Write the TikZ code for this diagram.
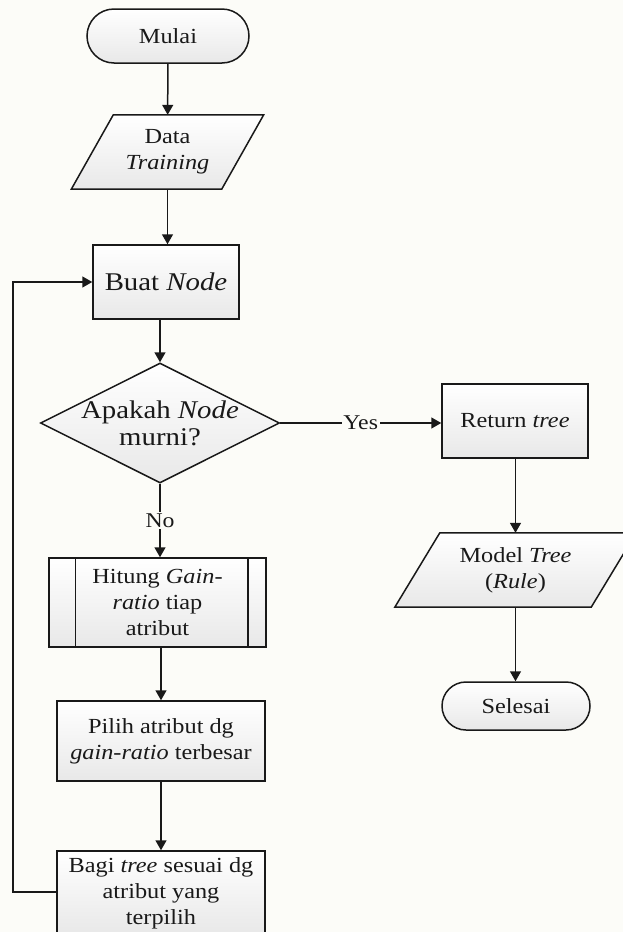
\documentclass[tikz,border=0pt]{standalone}
\usepackage{fontspec}
\setmainfont{Liberation Serif}[FakeStretch=1.13]
\usetikzlibrary{arrows.meta,shapes.geometric,calc}
\definecolor{ink}{RGB}{25,25,25}
\definecolor{paper}{RGB}{252,252,248}
\pgfdeclarelayer{paperlayer}
\pgfdeclarelayer{shapelayer}
\pgfsetlayers{paperlayer,shapelayer,main}
\newcommand\mainsize{\fontsize{21.5}{26}\selectfont}
\newcommand\bigsize{\fontsize{25.5}{27}\selectfont}
\tikzset{
  base/.style={draw=ink, line width=1.5pt, top color=white, bottom color=black!9,
    align=center, inner sep=0pt, font=\mainsize, text=ink},
  iotext/.style={align=center, inner sep=0pt, font=\mainsize, text=ink},
  ioshape/.style={draw=ink, line width=1.5pt, top color=white, bottom color=black!9},
  flow/.style={draw=ink, line width=1.5pt, -{Triangle[length=10pt,width=11pt]}},
  tag/.style={fill=paper, inner sep=1.5pt, text=ink, font=\fontsize{21}{24}\selectfont}
}
% parallelogram behind a text node: #1 node name, #2 half of the slant
\newcommand\parallelo[2]{%
  \begin{pgfonlayer}{shapelayer}
    \path[ioshape] ($(#1.north west)+(#2,0)$) -- ($(#1.north east)+(#2,0)$)
      -- ($(#1.south east)-(#2,0)$) -- ($(#1.south west)-(#2,0)$) -- cycle;
  \end{pgfonlayer}}
\begin{document}
\begin{tikzpicture}[x=1pt,y=-1pt]
\begin{pgfonlayer}{paperlayer}
  \fill[paper] (0,0) rectangle (623,932);
\end{pgfonlayer}
\useasboundingbox (0,0) rectangle (623,932);

% left column
\node[base, rounded corners=27pt, minimum width=162pt, minimum height=54pt] (start) at (168,36) {Mulai};
\node[iotext, minimum width=150pt, minimum height=74pt] (data) at (167.5,152) {Data\\\textit{Training}};
\parallelo{data}{21}
\node[base, minimum width=146pt, minimum height=74pt, font=\bigsize] (make) at (166,282) {Buat \textit{Node}};
\node[base, diamond, minimum width=239pt, minimum height=120pt] (pure) at (160,423) {};
\node[align=center, inner sep=0pt, font=\bigsize, text=ink] (pureq) at (pure.center) {Apakah \textit{Node}\\murni?};
\node[base, minimum width=217pt, minimum height=89pt] (gain) at (157.5,602.5) {Hitung \textit{Gain-}\\\textit{ratio} tiap\\atribut};
\draw[draw=ink, line width=1.5pt] ([xshift=27pt]gain.north west) -- ([xshift=27pt]gain.south west);
\draw[draw=ink, line width=1.5pt] ([xshift=-19pt]gain.north east) -- ([xshift=-19pt]gain.south east);
\node[base, minimum width=208pt, minimum height=80pt] (pick) at (161,741) {Pilih atribut dg\\\textit{gain-ratio} terbesar};
\node[base, minimum width=208pt, minimum height=84pt] (split) at (161,893) {Bagi \textit{tree} sesuai dg\\atribut yang\\terpilih};

% right column
\node[base, minimum width=146pt, minimum height=74pt] (ret) at (515,421) {Return \textit{tree}};
\node[iotext, minimum width=196pt, minimum height=74pt] (model) at (515.5,570) {Model \textit{Tree}\\(\textit{Rule})};
\parallelo{model}{22.5}
\node[base, rounded corners=24pt, minimum width=148pt, minimum height=48pt] (stop) at (516,706) {Selesai};

\coordinate (loop) at (13,892);

% connectors
\draw[flow] (start) -- (data);
\draw[flow] (data.south) -- (data.south |- make.north);
\draw[flow] (make.south -| pure.north) -- (pure.north);
\draw[flow] (pure.south) -- node[tag] {No} (pure.south |- gain.north);
\draw[flow] (gain.south -| pick.north) -- (pick.north);
\draw[flow] (pick) -- (split);
\draw[flow] (split.west |- loop) -- (loop) |- (make.west);
\draw[flow] (pure.east) -- node[tag] {Yes} (pure.east -| ret.west);
\draw[flow] (ret.south -| model.north) -- (model.north);
\draw[flow] (model.south) -- (model.south |- stop.north);
\end{tikzpicture}
\end{document}
